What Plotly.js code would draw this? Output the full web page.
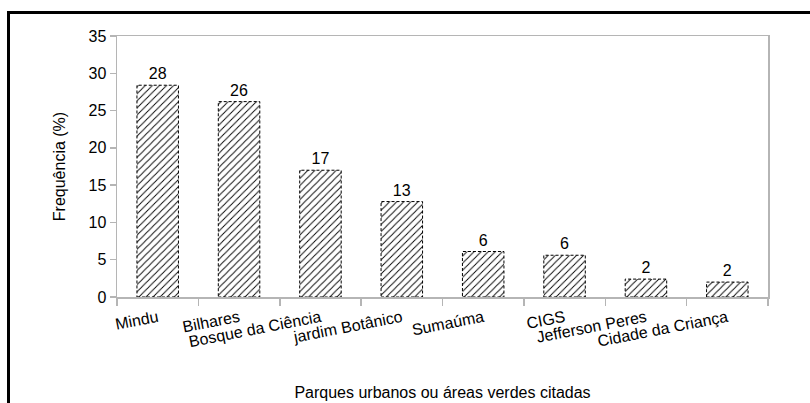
<!DOCTYPE html>
<html>
<head>
<meta charset="utf-8">
<script src="https://cdn.plot.ly/plotly-3.0.1.min.js"></script>
<style>
  html, body { margin: 0; padding: 0; background: #fff; overflow: hidden; }
  #wrap { position: relative; width: 810px; height: 403px; }
  #chart { width: 810px; height: 403px; }
  #frame { position: absolute; left: 7px; top: 11px; width: 900px; height: 500px;
           border-top: 3px solid #000; border-left: 3px solid #000; pointer-events: none; }
</style>
</head>
<body>
<div id="wrap">
  <div id="chart"></div>
  <div id="frame"></div>
</div>
<script>
const categories = ["Mindu", "Bilhares", "Bosque da Ciência", "jardim Botânico", "Sumaúma", "CIGS", "Jefferson Peres", "Cidade da Criança"];
const frequency = [28.4, 26.2, 17.0, 12.8, 6.1, 5.6, 2.4, 2.0];
const yTickValues = [0, 5, 10, 15, 20, 25, 30, 35];

const barWidth = 0.51;
const FONT = "Liberation Sans, Arial, sans-serif";

const trace = {
  type: "bar",
  x: categories,
  y: frequency,
  width: barWidth,
  marker: {
    color: "white",
    line: { width: 0 },
    pattern: { shape: "/", fgcolor: "black", bgcolor: "white", size: 5, solidity: 0.18 }
  },
  texttemplate: "%{y:.0f}",
  textposition: "outside",
  constraintext: "none",
  textfont: { family: FONT, size: 16, color: "#000" },
  cliponaxis: false,
  hoverinfo: "x+y"
};

// dashed outlines around each bar, derived from the data
const outlineShapes = frequency.map((v, i) => ({
  type: "rect", xref: "x", yref: "y",
  x0: i - barWidth / 2, x1: i + barWidth / 2, y0: 0, y1: v,
  line: { color: "#000", width: 1, dash: "3px,2px" },
  fillcolor: "rgba(0,0,0,0)"
}));

const layout = {
  width: 810, height: 403,
  margin: { l: 117, r: 42, t: 36, b: 106 },
  paper_bgcolor: "#fff", plot_bgcolor: "#fff",
  font: { family: FONT, size: 16, color: "#000" },
  showlegend: false,
  bargap: 0.49,
  xaxis: {
    type: "category",
    tickson: "boundaries",
    ticks: "outside", ticklen: 7, tickcolor: "#b5b5b5", tickwidth: 1.5,
    tickangle: -11,
    ticklabelstandoff: 4,
    tickfont: { family: FONT, size: 16, color: "#000" },
    showline: true, linecolor: "#b5b5b5", linewidth: 1.5, mirror: true,
    showgrid: false, zeroline: false,
    automargin: false,
    title: { text: "Parques urbanos ou áreas verdes citadas", font: { family: FONT, size: 16, color: "#000" }, standoff: 37 }
  },
  yaxis: {
    range: [0, 35],
    tickvals: yTickValues,
    ticks: "outside", ticklen: 6, tickcolor: "#b5b5b5", tickwidth: 1.5,
    tickfont: { family: FONT, size: 16, color: "#000" },
    showline: true, linecolor: "#b5b5b5", linewidth: 1.5, mirror: true,
    showgrid: false, zeroline: false,
    automargin: false,
    title: { text: "Frequência (%)", font: { family: FONT, size: 16, color: "#000" }, standoff: 19 }
  },
  shapes: outlineShapes
};

Plotly.newPlot("chart", [trace], layout, { displayModeBar: false, staticPlot: true });
</script>
</body>
</html>
